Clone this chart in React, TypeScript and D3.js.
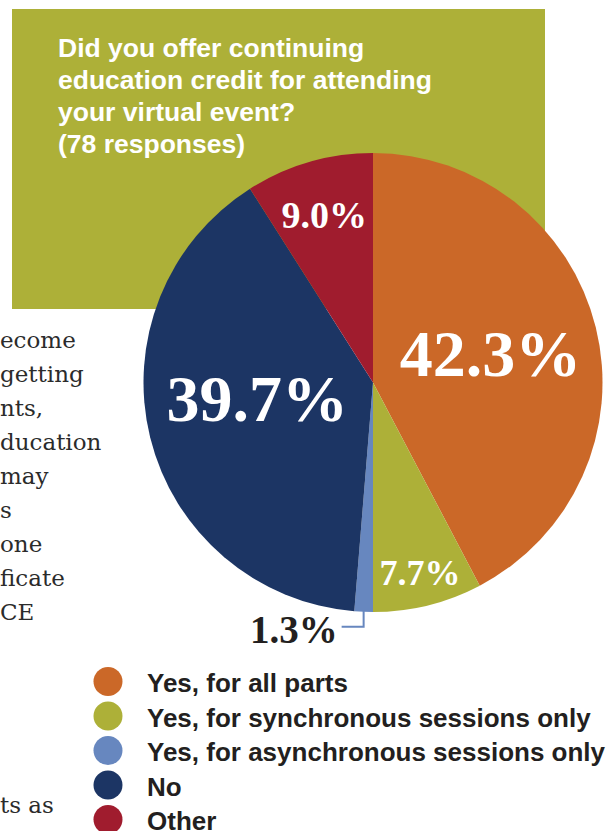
import React from "react";
import * as d3 from "d3";

const categories = [
  "Yes, for all parts",
  "Yes, for synchronous sessions only",
  "Yes, for asynchronous sessions only",
  "No",
  "Other",
];
const values = [42.3, 7.7, 1.3, 39.7, 9.0];
const labels = ["42.3%", "7.7%", "1.3%", "39.7%", "9.0%"];
const colors = ["#cb6828", "#adb038", "#6787bf", "#1c3564", "#a01c2e"];

const titleLines = [
  "Did you offer continuing",
  "education credit for attending",
  "your virtual event?",
  "(78 responses)",
];

const bodyLines = ["ecome", "getting", "nts,", "ducation", "may", "s", "one", "ficate", "CE"];

// label styling: radius fraction, font size, dy, fill
const labelStyle = [
  { rf: 0.527, size: 66, dy: 0, fill: "#fff" },
  { rf: 0.853, size: 36, dy: 0, fill: "#fff" },
  { rf: 0, size: 39, dy: 0, fill: "#231f20" },
  { rf: 0.52, size: 66, dy: -13, fill: "#fff" },
  { rf: 0.76, size: 38, dy: 0, fill: "#fff" },
];

export default function App() {
  const W = 611;
  const H = 831;
  const cx = 373;
  const cy = 382.5;
  const R = 229.5;

  const pie = d3
    .pie<number>()
    .sort(null)
    .value((d) => d)
    .startAngle(0)
    .endAngle(2 * Math.PI);
  const arcs = pie(values);
  const arc = d3.arc<d3.PieArcDatum<number>>().innerRadius(0).outerRadius(R);

  const legendY = d3
    .scalePoint<string>()
    .domain(categories)
    .range([692, 830]);

  const small = arcs[2];
  const smallMid = (small.startAngle + small.endAngle) / 2;
  const lx0 = Math.sin(smallMid) * R;
  const ly0 = -Math.cos(smallMid) * R;

  return (
    <svg
      width={W}
      height={H}
      style={{ position: "absolute", left: 0, top: 0, display: "block", background: "#fff" }}
    >
      <rect x={12} y={9} width={533} height={300} fill="#adb038" />
      {titleLines.map((t, i) => (
        <text
          key={t}
          x={58}
          y={57 + i * 32}
          fill="#fff"
          fontFamily="'Liberation Sans', Arial, sans-serif"
          fontWeight="bold"
          fontSize={26.5}
        >
          {t}
        </text>
      ))}
      {bodyLines.map((t, i) => (
        <text
          key={i}
          x={0}
          y={348 + i * 34}
          fill="#2b2b2b"
          fontFamily="'DejaVu Serif', 'Liberation Serif', serif"
          fontSize={23}
        >
          {t}
        </text>
      ))}
      <text
        x={0}
        y={813}
        fill="#2b2b2b"
        fontFamily="'DejaVu Serif', 'Liberation Serif', serif"
        fontSize={23}
      >
        ts as
      </text>

      <g transform={`translate(${cx},${cy})`}>
        {arcs.map((a, i) => (
          <path key={i} d={arc(a) || ""} fill={colors[i]} />
        ))}
        {arcs.map((a, i) => {
          const st = labelStyle[i];
          if (i === 2) return null;
          const [x, y] = d3
            .arc<d3.PieArcDatum<number>>()
            .innerRadius(R * st.rf)
            .outerRadius(R * st.rf)
            .centroid(a);
          return (
            <text
              key={i}
              x={x}
              y={y + st.dy + st.size * 0.34}
              textAnchor="middle"
              fill={st.fill}
              fontFamily="'Liberation Serif', 'Times New Roman', serif"
              fontWeight="bold"
              fontSize={st.size}
            >
              {labels[i]}
            </text>
          );
        })}
        <polyline
          points={`${lx0},${ly0 - 1} ${lx0},${ly0 + 15} ${lx0 - 22},${ly0 + 15}`}
          fill="none"
          stroke={colors[2]}
          strokeWidth={2}
        />
        <text
          x={lx0 - 26}
          y={ly0 + 31}
          textAnchor="end"
          fill={labelStyle[2].fill}
          fontFamily="'Liberation Serif', 'Times New Roman', serif"
          fontWeight="bold"
          fontSize={labelStyle[2].size}
        >
          {labels[2]}
        </text>
      </g>

      {categories.map((c, i) => (
        <g key={c}>
          <circle cx={108} cy={(legendY(c) || 0) - 10.5} r={14.5} fill={colors[i]} />
          <text
            x={147}
            y={legendY(c)}
            fill="#231f20"
            fontFamily="'Liberation Sans', Arial, sans-serif"
            fontWeight="bold"
            fontSize={26}
          >
            {c}
          </text>
        </g>
      ))}
    </svg>
  );
}
